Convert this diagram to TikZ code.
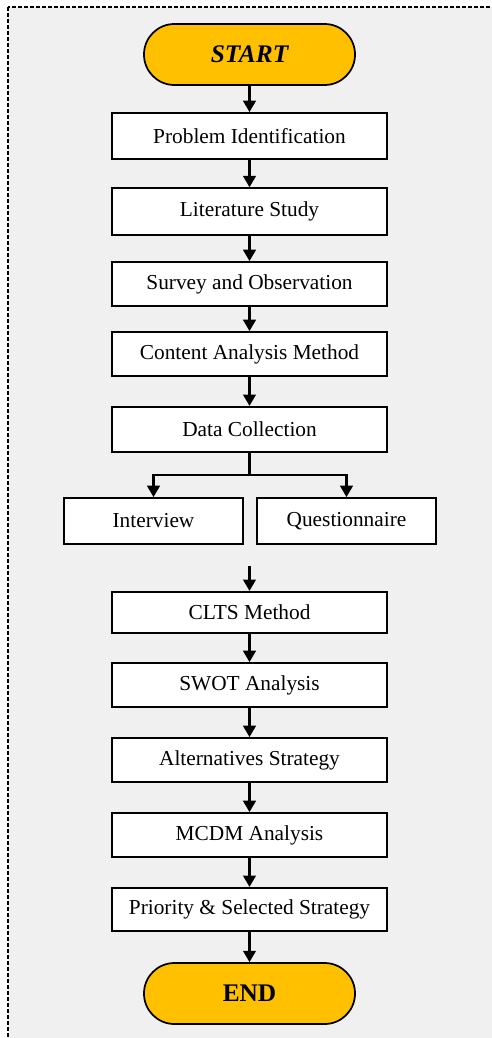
\documentclass[tikz,border=0pt]{standalone}
\usepackage{fontspec}
\setmainfont{Liberation Serif}
\usetikzlibrary{arrows.meta,calc}
\definecolor{panelgray}{HTML}{F0F0F0}
\definecolor{termgold}{HTML}{FFC000}

\begin{document}
\begin{tikzpicture}[x=0.75pt, y=-0.75pt,
  procbox/.style={draw=black, fill=white, line width=1.4pt, minimum width=206.25pt,
    minimum height=33pt, inner sep=0pt, font=\fontsize{16}{19}\selectfont},
  sidebox/.style={procbox, minimum width=134pt, minimum height=34.5pt},
  termbox/.style={draw=black, fill=termgold, line width=1.3pt, rounded corners=22.8pt,
    minimum width=158.25pt, minimum height=45.75pt, inner sep=0pt, font=\fontsize{19}{22}\selectfont\bfseries},
  flow/.style={line width=1.6pt, -{Triangle[length=8.5pt, width=9.5pt]}}
]
\useasboundingbox (0,0) rectangle (492,1038);
% panel behind the chart
\begin{scope}
  \clip (0,0) rectangle (492,1038);
  \fill[white] (0,0) rectangle (492,1038);
  \draw[fill=panelgray, line width=0.9pt, dash pattern=on 3pt off 1.5pt] (8,7) rectangle (540,1090);
\end{scope}

\node[termbox] (start) at (249.5, 54.5) {\itshape START};
\node[procbox, minimum height=34.5pt] (problem) at (249.5, 136) {Problem Identification};
\node[procbox, minimum height=35pt] (literature) at (249.5, 211.5) {Literature Study};
\node[procbox] (survey) at (249.5, 284) {Survey and Observation};
\node[procbox] (content) at (249.5, 354) {Content Analysis Method};
\node[procbox, minimum height=34pt] (datacol) at (249.5, 429.5) {Data Collection};

% two ways of collecting data
\node[sidebox] (interview) at (153.5, 521) {Interview};
\node[sidebox] (question) at (346.5, 521) {Questionnaire};

\node[procbox, minimum height=31pt] (clts) at (249.5, 612.5) {CLTS Method};
\node[procbox] (swot) at (249.5, 685) {SWOT Analysis};
\node[procbox] (altern) at (249.5, 760) {Alternatives Strategy};
\node[procbox] (mcdm) at (249.5, 835) {MCDM Analysis};
\node[procbox, minimum height=32.5pt] (priority) at (249.5, 909.5) {Priority \& Selected Strategy};
\node[termbox] (finish) at (249.5, 993.5) {END};

% main line
\draw[flow] (start) -- (problem);
\draw[flow] (problem) -- (literature);
\draw[flow] (literature) -- (survey);
\draw[flow] (survey) -- (content);
\draw[flow] (content) -- (datacol);

% split below data collection
\coordinate (split) at ($(datacol.south)+(0,22)$);
\draw[line width=1.6pt] (datacol.south) -- (split);
\draw[flow] (split) -| (interview.north);
\draw[flow] (split) -| (question.north);

% loose arrow into CLTS
\coordinate (cltsin) at ($(clts.north)+(0,-25)$);
\draw[flow] (cltsin) -- (clts);

\draw[flow] (clts) -- (swot);
\draw[flow] (swot) -- (altern);
\draw[flow] (altern) -- (mcdm);
\draw[flow] (mcdm) -- (priority);
\draw[flow] (priority) -- (finish);
\end{tikzpicture}
\end{document}
